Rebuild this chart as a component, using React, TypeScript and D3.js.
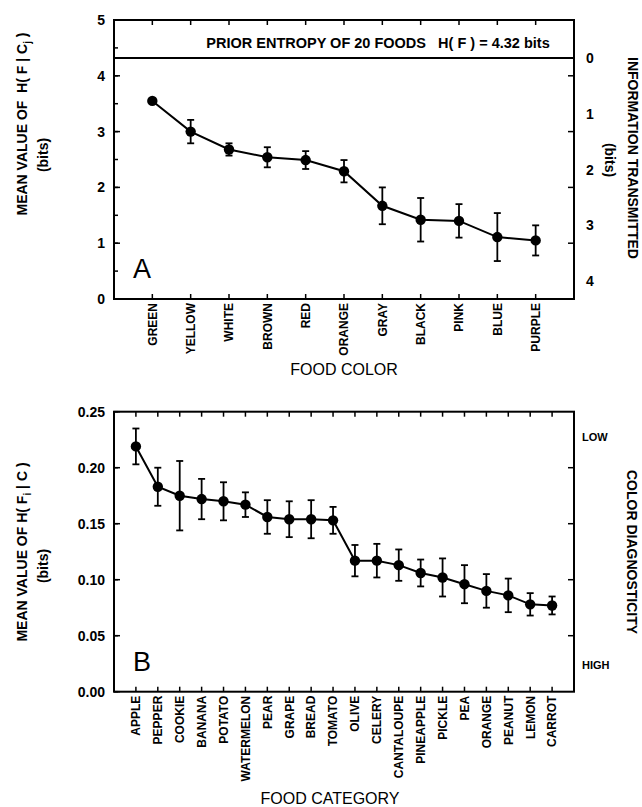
import React from "react";
import * as d3 from "d3";

const colors = ["GREEN", "YELLOW", "WHITE", "BROWN", "RED", "ORANGE", "GRAY", "BLACK", "PINK", "BLUE", "PURPLE"];
const colorMeans = [3.55, 3.0, 2.68, 2.54, 2.49, 2.29, 1.67, 1.42, 1.4, 1.11, 1.05];
const colorErrs = [0, 0.21, 0.11, 0.18, 0.16, 0.2, 0.33, 0.39, 0.3, 0.43, 0.27];

const foods = ["APPLE", "PEPPER", "COOKIE", "BANANA", "POTATO", "WATERMELON", "PEAR", "GRAPE", "BREAD", "TOMATO", "OLIVE", "CELERY", "CANTALOUPE", "PINEAPPLE", "PICKLE", "PEA", "ORANGE", "PEANUT", "LEMON", "CARROT"];
const foodMeans = [0.219, 0.183, 0.175, 0.172, 0.17, 0.167, 0.156, 0.154, 0.154, 0.153, 0.117, 0.117, 0.113, 0.106, 0.102, 0.096, 0.09, 0.086, 0.078, 0.077];
const foodErrs = [0.016, 0.017, 0.031, 0.018, 0.017, 0.011, 0.015, 0.016, 0.017, 0.012, 0.014, 0.015, 0.014, 0.012, 0.017, 0.017, 0.015, 0.015, 0.01, 0.008];

const leftTicksA = [0, 1, 2, 3, 4, 5];
const rightTicksA = [0, 1, 2, 3, 4];
const leftTicksB = [0, 0.05, 0.1, 0.15, 0.2, 0.25];
const priorEntropy = 4.32;

const FONT = "'Liberation Sans', Arial, sans-serif";

function Panel({
  cats, means, errs, top, bottom, yMax, leftTicks, minorStep, fmt, letter, letterY, xTitle, xTitleX, xTitleY,
}: any) {
  const L = 114, R = 574;
  const x = d3.scaleLinear().domain([-1, cats.length]).range([L, R]);
  const y = d3.scaleLinear().domain([0, yMax]).range([bottom, top]);
  const line = d3.line<number>().x((_, i) => x(i)).y((d) => y(d));
  const minors = d3.range(0, yMax + 1e-9, minorStep);
  return (
    <g>
      <rect x={L} y={top} width={R - L} height={bottom - top} fill="none" stroke="#000" strokeWidth={2} />
      {minors.map((t: number, i: number) => (
        <line key={"lm" + i} x1={L} x2={L + 4} y1={y(t)} y2={y(t)} stroke="#000" strokeWidth={1.5} />
      ))}
      {leftTicks.map((t: number) => (
        <g key={"l" + t}>
          <line x1={L} x2={L + 6} y1={y(t)} y2={y(t)} stroke="#000" strokeWidth={1.5} />
          <text x={105} y={y(t)} dy="0.36em" textAnchor="end" fontFamily={FONT} fontWeight="bold" fontSize={14}>{fmt(t)}</text>
        </g>
      ))}
      {cats.map((c: string, i: number) => (
        <g key={"c" + c}>
          <line x1={x(i)} x2={x(i)} y1={top} y2={top + 5} stroke="#000" strokeWidth={1.5} />
          <line x1={x(i)} x2={x(i)} y1={bottom} y2={bottom - 5} stroke="#000" strokeWidth={1.5} />
          <text transform={`translate(${x(i)},${bottom + 4}) rotate(-90)`} dy="0.36em" textAnchor="end" fontFamily={FONT} fontWeight="bold" fontSize={12}>{c}</text>
        </g>
      ))}
      <path d={line(means) as string} fill="none" stroke="#000" strokeWidth={2} />
      {means.map((m: number, i: number) => errs[i] > 0 ? (
        <g key={"e" + i} stroke="#000" strokeWidth={1.8}>
          <line x1={x(i)} x2={x(i)} y1={y(m - errs[i])} y2={y(m + errs[i])} />
          <line x1={x(i) - 3.5} x2={x(i) + 3.5} y1={y(m - errs[i])} y2={y(m - errs[i])} />
          <line x1={x(i) - 3.5} x2={x(i) + 3.5} y1={y(m + errs[i])} y2={y(m + errs[i])} />
        </g>
      ) : null)}
      {means.map((m: number, i: number) => (
        <circle key={"p" + i} cx={x(i)} cy={y(m)} r={5.2} fill="#000" />
      ))}
      <text x={133} y={letterY} fontFamily={FONT} fontSize={27} fontWeight={300}>{letter}</text>
      <text x={xTitleX} y={xTitleY} textAnchor="middle" fontFamily={FONT} fontSize={16}>{xTitle}</text>
    </g>
  );
}

export default function App() {
  const topA = 20, botA = 299;
  const yA = d3.scaleLinear().domain([0, 5]).range([botA, topA]);
  const topB = 411.7, botB = 691.7;
  const yB = d3.scaleLinear().domain([0, 0.25]).range([botB, topB]);
  const L = 114, R = 574;
  return (
    <svg width={642} height={807} style={{ position: "absolute", left: 0, top: 0, background: "#fff" }}>
      <rect width={642} height={807} fill="#fff" />
      <Panel cats={colors} means={colorMeans} errs={colorErrs} top={topA} bottom={botA} yMax={5}
        leftTicks={leftTicksA} minorStep={0.5} fmt={(t: number) => String(t)} letter="A" letterY={278}
        xTitle="FOOD COLOR" xTitleX={344} xTitleY={375} />
      <line x1={L} x2={R} y1={yA(priorEntropy)} y2={yA(priorEntropy)} stroke="#000" strokeWidth={2} />
      <text x={378} y={48} textAnchor="middle" fontFamily={FONT} fontWeight="bold" fontSize={14.5}>
        PRIOR ENTROPY OF 20 FOODS{"\u00a0\u00a0\u00a0"}H( F ) = 4.32 bits
      </text>
      {leftTicksA.map((t) => (
        <line key={"ra" + t} x1={R} x2={R - 6} y1={yA(t)} y2={yA(t)} stroke="#000" strokeWidth={1.5} />
      ))}
      {rightTicksA.map((t) => (
        <text key={"rl" + t} x={586} y={yA(priorEntropy - t)} dy="0.36em" fontFamily={FONT} fontWeight="bold" fontSize={14}>{t}</text>
      ))}
      <text transform="translate(22,124) rotate(-90)" dy="0.36em" textAnchor="middle" fontFamily={FONT} fontWeight="bold" fontSize={14}>
        MEAN VALUE OF{"\u00a0\u00a0"}H( F | C<tspan fontSize={10} dy="4">j</tspan><tspan dy="-4"> )</tspan>
      </text>
      <text transform="translate(43,155) rotate(-90)" dy="0.36em" textAnchor="middle" fontFamily={FONT} fontWeight="bold" fontSize={14}>(bits)</text>
      <text transform="translate(633,158) rotate(90)" dy="0.36em" textAnchor="middle" fontFamily={FONT} fontWeight="bold" fontSize={14}>INFORMATION TRANSMITTED</text>
      <text transform="translate(610,160) rotate(90)" dy="0.36em" textAnchor="middle" fontFamily={FONT} fontWeight="bold" fontSize={14}>(bits)</text>

      <Panel cats={foods} means={foodMeans} errs={foodErrs} top={topB} bottom={botB} yMax={0.25}
        leftTicks={leftTicksB} minorStep={0.05} fmt={d3.format(".2f")} letter="B" letterY={671}
        xTitle="FOOD CATEGORY" xTitleX={330} xTitleY={804} />
      {leftTicksB.slice(1, 5).map((t) => (
        <line key={"rb" + t} x1={R} x2={R - 6} y1={yB(t)} y2={yB(t)} stroke="#000" strokeWidth={1.5} />
      ))}
      <text x={582} y={437} dy="0.36em" fontFamily={FONT} fontWeight="bold" fontSize={11}>LOW</text>
      <text x={582} y={665} dy="0.36em" fontFamily={FONT} fontWeight="bold" fontSize={11}>HIGH</text>
      <text transform="translate(22,552) rotate(-90)" dy="0.36em" textAnchor="middle" fontFamily={FONT} fontWeight="bold" fontSize={14}>
        MEAN VALUE OF H( F<tspan fontSize={10} dy="4">i</tspan><tspan dy="-4"> | C )</tspan>
      </text>
      <text transform="translate(43,566) rotate(-90)" dy="0.36em" textAnchor="middle" fontFamily={FONT} fontWeight="bold" fontSize={14}>(bits)</text>
      <text transform="translate(632,552) rotate(90)" dy="0.36em" textAnchor="middle" fontFamily={FONT} fontWeight="bold" fontSize={14}>COLOR DIAGNOSTICITY</text>
    </svg>
  );
}
